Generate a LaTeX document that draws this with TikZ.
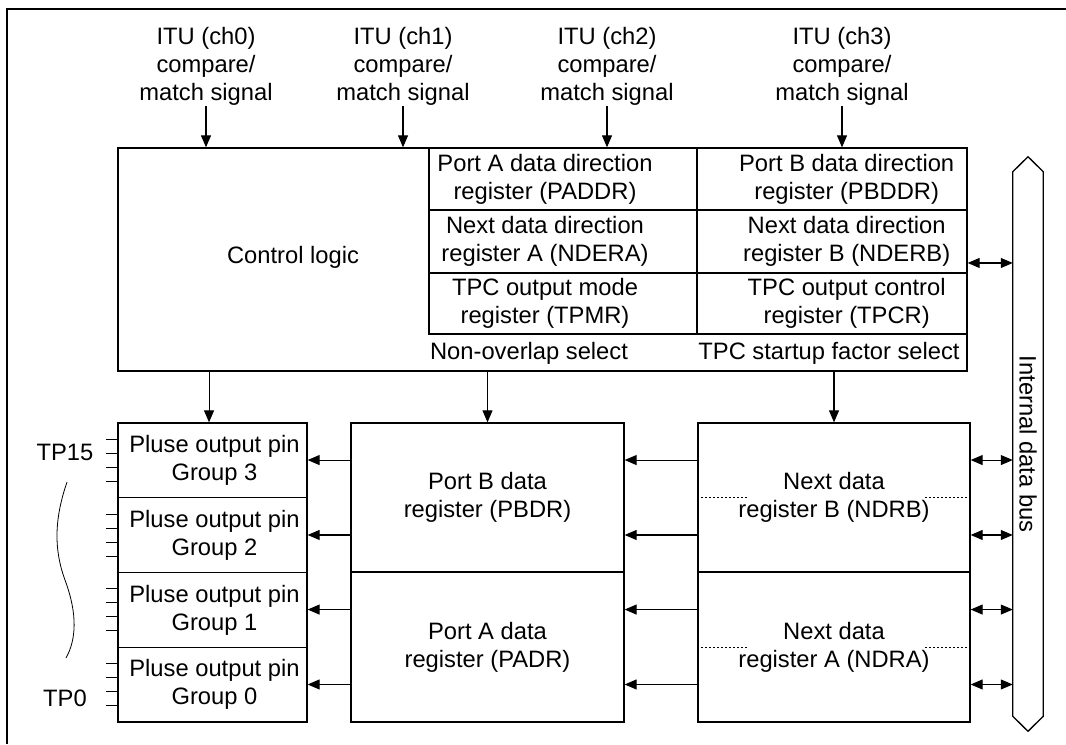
\documentclass[tikz,border=0pt]{standalone}
\usepackage{fontspec}
\setmainfont{Liberation Sans}
\usetikzlibrary{arrows.meta,fit,positioning,calc}

\begin{document}
\begin{tikzpicture}[
  x=0.75pt, y=-0.75pt,
  every node/.style={font=\fontsize{17.8}{21}\selectfont},
  box/.style={draw, line width=1pt, inner sep=0pt},
  txt/.style={align=center, inner sep=0pt},
  sig/.style={-{Triangle[length=9pt,width=7.5pt]}, line width=0.8pt},
  bidir/.style={{Triangle[length=9pt,width=7.5pt]}-{Triangle[length=9pt,width=7.5pt]}, line width=0.8pt},
  pin/.style={line width=0.8pt}
]
  \useasboundingbox (0,0) rectangle (1066,744);
  \draw[line width=1.6pt] (7,744) -- (7,9) -- (1066,9);

  % control logic and registers
  \node[box, fit={(118,148) (967,371)}] (ctrl) {};
  \node[box, fit={(429,148) (697,210)}] (paddr) {};
  \node[box, fit={(697,148) (967,210)}] (pbddr) {};
  \node[box, fit={(429,210) (697,273)}] (ndera) {};
  \node[box, fit={(697,210) (967,273)}] (nderb) {};
  \node[box, fit={(429,273) (697,334)}] (tpmr) {};
  \node[box, fit={(697,273) (967,334)}] (tpcr) {};
  \node[txt] at ([xshift=-13.5pt]paddr.center) {Port A data direction\\register (PADDR)};
  \node[txt] at ([xshift=11pt]pbddr.center) {Port B data direction\\register (PBDDR)};
  \node[txt] at ([xshift=-13.5pt]ndera.center) {Next data direction\\register A (NDERA)};
  \node[txt] at ([xshift=11pt]nderb.center) {Next data direction\\register B (NDERB)};
  \node[txt] at ([xshift=-13.5pt]tpmr.center) {TPC output mode\\register (TPMR)};
  \node[txt] at ([xshift=11pt]tpcr.center) {TPC output control\\register (TPCR)};
  \node[txt] (ctrltxt) at (293,257) {Control logic};
  \node[txt] (novl) at (529,353) {Non-overlap select};
  \node[txt] (tpcsel) at (829,353) {TPC startup factor select};

  % ITU inputs
  \foreach \i/\x in {0/206, 1/403, 2/607, 3/842} {
    \node[txt, anchor=south] (itu\i) at (\x,106) {ITU (ch\i)\\compare/\\match signal};
    \draw[sig] (itu\i.south) -- (itu\i.south |- ctrl.north);
  }

  % output pin groups
  \foreach \g/\t in {3/423, 2/497.75, 1/572.5, 0/647.25} {
    \pgfmathsetmacro\b{\t+74.75}
    \node[box, fit={(118,\t) (307,\b)}] (grp\g) {};
    \node[txt] at ([xshift=1.5pt]grp\g.center) {Pluse output pin\\Group \g};
    \foreach \d in {15.75, 5.25, -5.25, -15.75}
      \draw[pin] ([yshift=\d pt]grp\g.west) -- ++(-11,0);
  }
  \node[txt] (tp15) at (65,452) {TP15};
  \node[txt] (tp0) at (65,698) {TP0};
  \draw[line width=0.6pt] (67,482) .. controls (54,520) and (54,550) .. (65,580)
    .. controls (78,615) and (76,640) .. (66,658);

  % data registers
  \node[box, fit={(351,423) (624,572)}] (pbdr) {};
  \node[box, fit={(351,572) (624,722)}] (padr) {};
  \node[box, fit={(698,423) (970,572)}] (ndrb) {};
  \node[box, fit={(698,572) (970,722)}] (ndra) {};
  \node[txt] at (pbdr.center) {Port B data\\register (PBDR)};
  \node[txt] at (padr.center) {Port A data\\register (PADR)};
  \node[txt] at (ndrb.center) {Next data\\register B (NDRB)};
  \node[txt] at (ndra.center) {Next data\\register A (NDRA)};
  \foreach \r in {ndrb, ndra} {
    \draw[dash pattern=on 1.5pt off 1.5pt, line width=0.7pt] (\r.west) -- ++(50,0);
    \draw[dash pattern=on 1.5pt off 1.5pt, line width=0.7pt] (\r.east) -- ++(-48,0);
  }

  % internal bus
  \node[fit={(1013,172) (1043,716)}, inner sep=0pt] (bus) {};
  \draw[line width=1pt] (bus.south west) -- (bus.north west) -- ([yshift=11.25pt]bus.north)
    -- (bus.north east) -- (bus.south east) -- ([yshift=-11.25pt]bus.south) -- cycle;
  \node[rotate=-90] (busname) at (bus.center) {Internal data bus};

  % connections
  \draw[sig] ([xshift=-2.6pt]ctrl.south -| grp3.north) -- ([xshift=-2.6pt]grp3.north);
  \draw[sig] (ctrl.south -| pbdr.north) -- (pbdr.north);
  \draw[sig] (ctrl.south -| ndrb.north) -- (ndrb.north);
  \draw[bidir] ([yshift=-2.6pt]ctrl.east) -- ([yshift=-2.6pt]ctrl.east -| bus.west);
  \foreach \r/\p in {ndrb/pbdr, ndra/padr} {
    \foreach \s in {28.1, -28.1} {
      \draw[sig] ([yshift=\s pt]\r.west) -- ([yshift=\s pt]\r.west -| \p.east);
      \draw[sig] ([yshift=\s pt]\p.west) -- ([yshift=\s pt]\p.west -| grp3.east);
      \draw[bidir] ([yshift=\s pt]\r.east) -- ([yshift=\s pt]\r.east -| bus.west);
    }
  }
\end{tikzpicture}
\end{document}
